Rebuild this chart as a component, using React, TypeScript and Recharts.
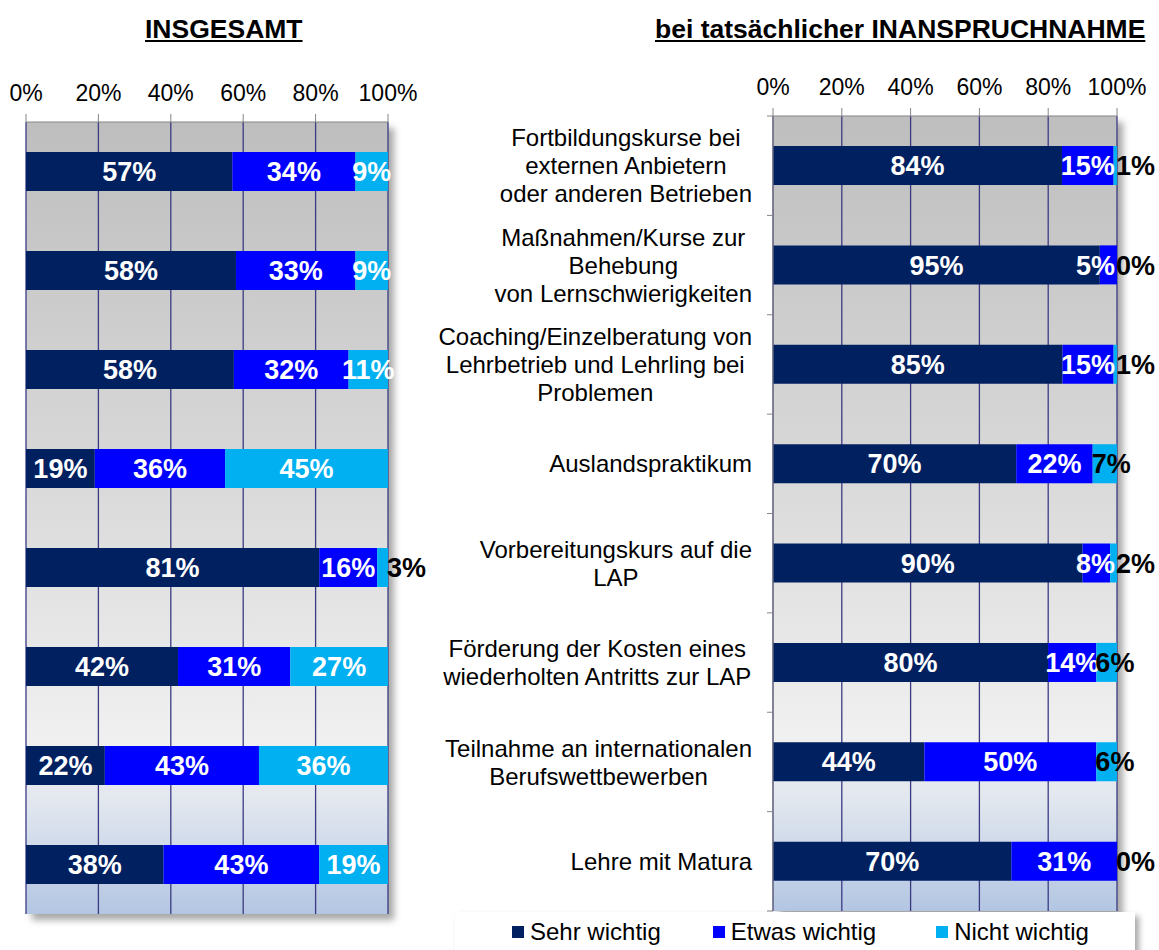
import { BarChart, Bar, XAxis, YAxis, CartesianGrid, LabelList, Legend } from "recharts";

const FONT = "'Liberation Sans', Arial, sans-serif";

// series names
const seriesNames = ["Sehr wichtig", "Etwas wichtig", "Nicht wichtig"];
const seriesColors = ["#002060", "#0000ff", "#00b0f0"];

// right chart categories (line breaks as in the original)
const categories = [
  "Fortbildungskurse bei\nexternen Anbietern\noder anderen Betrieben",
  "Maßnahmen/Kurse zur\nBehebung\nvon Lernschwierigkeiten",
  "Coaching/Einzelberatung von\nLehrbetrieb und Lehrling bei\nProblemen",
  "Auslandspraktikum",
  "Vorbereitungskurs auf die\nLAP",
  "Förderung der Kosten eines\nwiederholten Antritts zur LAP",
  "Teilnahme an internationalen\nBerufswettbewerben",
  "Lehre mit Matura",
];

// INSGESAMT
const totalSehr = [57, 58, 58, 19, 81, 42, 22, 38];
const totalEtwas = [34, 33, 32, 36, 16, 31, 43, 43];
const totalNicht = [9, 9, 11, 45, 3, 27, 36, 19];

// bei tatsächlicher Inanspruchnahme
const usedSehr = [84, 95, 85, 70, 90, 80, 44, 70];
const usedEtwas = [15, 5, 15, 22, 8, 14, 50, 31];
const usedNicht = [1, 0, 1, 7, 2, 6, 6, 0];

const percentTicks = [0, 0.2, 0.4, 0.6, 0.8, 1];

const totalData = categories.map((name, i) => ({
  name,
  sehr: totalSehr[i],
  etwas: totalEtwas[i],
  nicht: totalNicht[i],
}));
const usedData = categories.map((name, i) => ({
  name,
  sehr: usedSehr[i],
  etwas: usedEtwas[i],
  nicht: usedNicht[i],
}));

const LEFT_W = 440;
const LEFT_MARGIN = { top: 82, right: 52, bottom: 36, left: 26 };
const RIGHT_X = 420;
const RIGHT_W = 739;
const RIGHT_MARGIN = { top: 76, right: 42, bottom: 39, left: 0 };
const Y_AXIS_W = 353;
const H = 950;
const RIGHT_BAND = (H - RIGHT_MARGIN.top - 40 - RIGHT_MARGIN.bottom) / categories.length;
const CAT_SIZE = 24;

const LABEL_SIZE = 27;
const labelWidth = (v: number) => LABEL_SIZE * (0.556 * String(v).length + 0.889);

let canvasCtx: CanvasRenderingContext2D | null = null;
const measure = (s: string) => {
  if (!canvasCtx) {
    canvasCtx = document.createElement("canvas").getContext("2d");
  }
  if (!canvasCtx) return s.length * 11;
  canvasCtx.font = `${CAT_SIZE}px ${FONT}`;
  return canvasCtx.measureText(s).width;
};

const blackLabel = (sx: number, cy: number, v: number) => (
  <text x={sx} y={cy} dy="0.36em" textAnchor="start" fill="#000" fontSize={LABEL_SIZE} fontWeight="bold" fontFamily={FONT}>
    {`${v}%`}
  </text>
);

const makeLabel = (key: string, clampRight: number | null) => (props: any) => {
  const { x, y, width, height, value } = props;
  const v = Number(value);
  const cy = Number(y) + Number(height) / 2;
  if (key === "nicht" && v <= 7) {
    if (v === 0) return null;
    const sx = v < 5 ? Number(x) + Number(width) - 1 : Number(x) - 1;
    return blackLabel(sx, cy, v);
  }
  let cx = Number(x) + Number(width) / 2;
  if (clampRight !== null) {
    const w = labelWidth(v);
    if (cx + w / 2 > clampRight) cx = clampRight - w / 2;
  }
  return (
    <text x={cx} y={cy} dy="0.36em" textAnchor="middle" fill="#fff" fontSize={LABEL_SIZE} fontWeight="bold" fontFamily={FONT}>
      {`${v}%`}
    </text>
  );
};

// zero-width "nicht" segments have no rect of their own: label them at the end of the "etwas" rect
const zeroLabel = (props: any) => {
  const { x, y, width, height, value } = props;
  if (Number(value) !== 0) return null;
  return blackLabel(Number(x) + Number(width) - 1, Number(y) + Number(height) / 2, 0);
};

const CategoryTick = (props: any) => {
  const { x, y, payload, index } = props;
  const idx = index ?? payload.index;
  const lines = String(payload.value).split("\n");
  const maxW = Math.max(...lines.map(measure));
  const cx = Number(x) - maxW / 2;
  const top = Number(y) - ((lines.length - 1) * 28) / 2;
  const axisX = RIGHT_MARGIN.left + Y_AXIS_W;
  return (
    <g>
      <line x1={axisX - 6} x2={axisX} y1={y - RIGHT_BAND / 2} y2={y - RIGHT_BAND / 2} stroke="#868686" />
      {idx === categories.length - 1 && (
        <line x1={axisX - 6} x2={axisX} y1={y + RIGHT_BAND / 2} y2={y + RIGHT_BAND / 2} stroke="#868686" />
      )}
      <text textAnchor="middle" fill="#000" fontSize={CAT_SIZE} fontFamily={FONT}>
        {lines.map((l, i) => (
          <tspan key={i} x={cx} y={top + i * 28} dy="0.36em">
            {l}
          </tspan>
        ))}
      </text>
    </g>
  );
};

const LegendBox = (props: any) => {
  const items = [...(props.payload || [])].sort(
    (a: any, b: any) => seriesNames.indexOf(a.value) - seriesNames.indexOf(b.value)
  );
  const gaps = [0, 52, 60];
  return (
    <div
      style={{
        width: 680,
        height: 45,
        background: "#fff",
        boxShadow: "4px 4px 6px rgba(0,0,0,0.35)",
        display: "flex",
        alignItems: "center",
        paddingLeft: 57,
        boxSizing: "border-box",
        paddingBottom: 6,
        fontFamily: FONT,
        fontSize: CAT_SIZE,
        color: "#000",
      }}
    >
      {items.map((it: any, i: number) => (
        <div key={i} style={{ display: "flex", alignItems: "center", marginLeft: gaps[i] }}>
          <span style={{ width: 12, height: 12, background: it.color, display: "inline-block", marginRight: 6 }} />
          <span>{it.value}</span>
        </div>
      ))}
    </div>
  );
};

const tickStyle = { fill: "#000", fontSize: 23, fontFamily: FONT };
const fmt = (v: number) => `${Math.round(v * 100)}%`;

const renderBars = (clamp: number | null) =>
  ["sehr", "etwas", "nicht"].map((k, i) => (
    <Bar key={k} dataKey={k} name={seriesNames[i]} stackId="a" fill={seriesColors[i]} barSize={39} isAnimationActive={false}>
      <LabelList dataKey={k} content={makeLabel(k, clamp)} />
      {k === "etwas" && <LabelList dataKey="nicht" content={zeroLabel} />}
    </Bar>
  ));

export default function App() {
  return (
    <div style={{ position: "absolute", left: 0, top: 0, width: 1159, height: 950, background: "#fff", fontFamily: FONT }}>
      <svg width="0" height="0" style={{ position: "absolute" }}>
        <defs>
          <linearGradient id="plotBg" x1="0" y1="0" x2="0" y2="1">
            <stop offset="0" stopColor="#bebebe" />
            <stop offset="0.45" stopColor="#d9d9d9" />
            <stop offset="0.78" stopColor="#f0f0f0" />
            <stop offset="0.86" stopColor="#e2e7ef" />
            <stop offset="1" stopColor="#b3c6e2" />
          </linearGradient>
        </defs>
      </svg>

      <div style={{ position: "absolute", left: 145, top: 14, fontSize: 26.5, fontWeight: "bold", lineHeight: "30px", textDecoration: "underline" }}>
        INSGESAMT
      </div>
      <div style={{ position: "absolute", left: 655, top: 14, fontSize: 26.5, fontWeight: "bold", lineHeight: "30px", textDecoration: "underline" }}>
        bei tatsächlicher INANSPRUCHNAHME
      </div>

      {/* plot area shadows */}
      <div style={{ position: "absolute", left: 26, top: 122, width: 362, height: 792, boxShadow: "6px 6px 7px rgba(0,0,0,0.35)" }} />
      <div style={{ position: "absolute", left: 773, top: 116, width: 344, height: 795, boxShadow: "6px 6px 7px rgba(0,0,0,0.35)" }} />

      <div style={{ position: "absolute", left: 0, top: 0 }}>
        <BarChart width={LEFT_W} height={H} data={totalData} layout="vertical" stackOffset="expand" margin={LEFT_MARGIN}>
          <CartesianGrid horizontal={false} stroke="#3b3b84" strokeWidth={1.3} fill="url(#plotBg)" fillOpacity={1} />
          <XAxis
            type="number"
            orientation="top"
            domain={[0, 1]}
            ticks={percentTicks}
            tickFormatter={fmt}
            height={40}
            tickSize={8}
            tickMargin={13}
            stroke="#868686"
            tick={tickStyle}
            interval={0}
          />
          <YAxis type="category" dataKey="name" hide />
          {renderBars(null)}
        </BarChart>
      </div>

      <div style={{ position: "absolute", left: RIGHT_X, top: 0 }}>
        <BarChart width={RIGHT_W} height={H} data={usedData} layout="vertical" stackOffset="expand" margin={RIGHT_MARGIN}>
          <CartesianGrid horizontal={false} stroke="#3b3b84" strokeWidth={1.3} fill="url(#plotBg)" fillOpacity={1} />
          <XAxis
            type="number"
            orientation="top"
            domain={[0, 1]}
            ticks={percentTicks}
            tickFormatter={fmt}
            height={40}
            tickSize={8}
            tickMargin={13}
            stroke="#868686"
            tick={tickStyle}
            interval={0}
          />
          <YAxis
            type="category"
            dataKey="name"
            width={Y_AXIS_W}
            stroke="#868686"
            tickLine={false}
            tickSize={6}
            tickMargin={15}
            tick={<CategoryTick />}
            interval={0}
          />
          {renderBars(RIGHT_W - RIGHT_MARGIN.right - 2)}
          <Legend
            layout="horizontal"
            verticalAlign="middle"
            align="center"
            content={<LegendBox />}
            wrapperStyle={{ left: 35, top: 912, width: 680 }}
          />
        </BarChart>
      </div>
    </div>
  );
}
